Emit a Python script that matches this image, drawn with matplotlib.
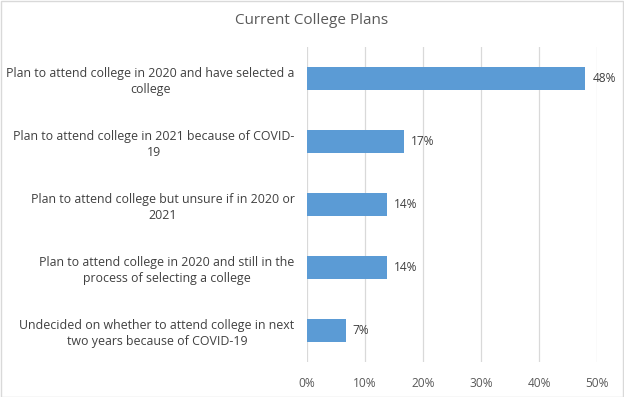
import matplotlib
matplotlib.use("Agg")
import matplotlib.pyplot as plt
from matplotlib.patches import Rectangle

INK = "#595959"
GRID = "#d9d9d9"
BAR = "#5b9bd5"

categories = [
    "Plan to attend college in 2020 and have selected a\ncollege",
    "Plan to attend college in 2021 because of COVID-\n19",
    "Plan to attend college but unsure if in 2020 or\n2021",
    "Plan to attend college in 2020 and still in the\nprocess of selecting a college",
    "Undecided on whether to attend college in next\ntwo years because of COVID-19",
]
values = [0.48, 0.167, 0.138, 0.138, 0.067]
xticks = [0, 0.1, 0.2, 0.3, 0.4, 0.5]

plt.rcParams["font.family"] = ["Open Sans", "DejaVu Sans"]

fig = plt.figure(figsize=(6.24, 3.97), dpi=100)
ax = fig.add_axes([307 / 624, 1 - 362 / 397, 290 / 624, 315 / 397])

y = list(range(len(categories)))
ax.barh(y, values, height=0.37, color=BAR, zorder=3)
ax.set_ylim(len(categories) - 0.5, -0.5)
ax.set_xlim(0, 0.5)

for yi, v in zip(y, values):
    ax.text(v + 0.012, yi, f"{v * 100:.0f}%", va="center", ha="left",
            color="#404040", fontsize=8.6)

ax.set_xticks(xticks)
ax.set_xticklabels([f"{t * 100:.0f}%" for t in xticks], color=INK, fontsize=8.6)
ax.set_yticks(y)
ax.set_yticklabels(categories, color="#404040", fontsize=8.9, ha="right",
                   multialignment="center", linespacing=1.3)
ax.tick_params(axis="both", length=0)
ax.tick_params(axis="x", pad=11)
ax.tick_params(axis="y", pad=9)
ax.grid(axis="x", color=GRID, linewidth=0.9, zorder=0)
for s in ax.spines.values():
    s.set_visible(False)

fig.text(0.5, 1 - 21 / 397, "Current College Plans", ha="center", va="center",
         color=INK, fontsize=11)

fig.patches.append(Rectangle((0.001, 0.001), 0.997, 0.996, transform=fig.transFigure,
                             fill=False, edgecolor=GRID, linewidth=1))

fig.savefig("out.png", dpi=100, facecolor="white")
